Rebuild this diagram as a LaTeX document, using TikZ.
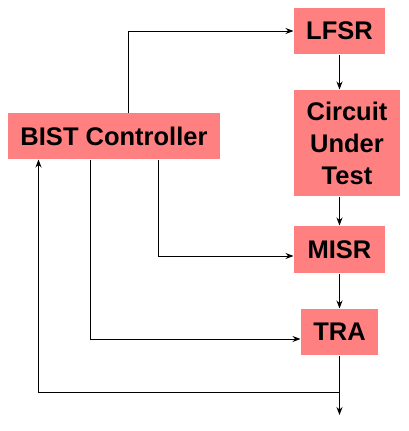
\documentclass[tikz,border=0pt]{standalone}
\usepackage{fontspec}
\setmainfont{Liberation Sans}
\usetikzlibrary{positioning,calc,arrows.meta}
\definecolor{blockred}{RGB}{255,128,128}
\tikzset{font=\fontsize{25.5}{32}\selectfont\bfseries}
\tikzset{block/.style={fill=blockred, align=center, inner sep=0pt}}

\begin{document}
\begin{tikzpicture}[x=1pt, y=-1pt, >={Stealth[length=8pt,width=6pt]}, line width=1pt]
	\useasboundingbox (0,0) rectangle (408,431);
	\begin{scope}
		\node[block, minimum width=212, minimum height=46] (bist) at (114, 136) {BIST Controller};
		\node[block, minimum width=91, minimum height=46]  (lfsr) at (339.5, 31) {LFSR};
		\node[block, minimum width=106, minimum height=106] (cut) at (347, 143) {Circuit\\Under\\Test};
		\node[block, minimum width=91, minimum height=47]  (misr) at (339.5, 249.5) {MISR};
		\node[block, minimum width=77, minimum height=46]  (tra) at (339.5, 332) {TRA};

		\coordinate (fb)  at (339.5, 392);
		\coordinate (out) at (339.5, 415);

		\draw[->] ($(bist.north)+(14,0)$) |- (lfsr.west);
		\draw[->] (lfsr) -- (lfsr |- cut.north);
		\draw[->] (misr |- cut.south) -- (misr);
		\draw[->] (misr) -- (tra);
		\draw[->] (tra) -- (out);
		\draw[->] ($(bist.south)+(44,0)$) |- ([yshift=-6.5pt]misr.west);
		\draw[->] ($(bist.south)+(-24,0)$) |- ([yshift=-7pt]tra.west);
		\draw[->] (fb) -| ($(bist.south)+(-75.5,0)$);
	\end{scope}
\end{tikzpicture}
\end{document}
